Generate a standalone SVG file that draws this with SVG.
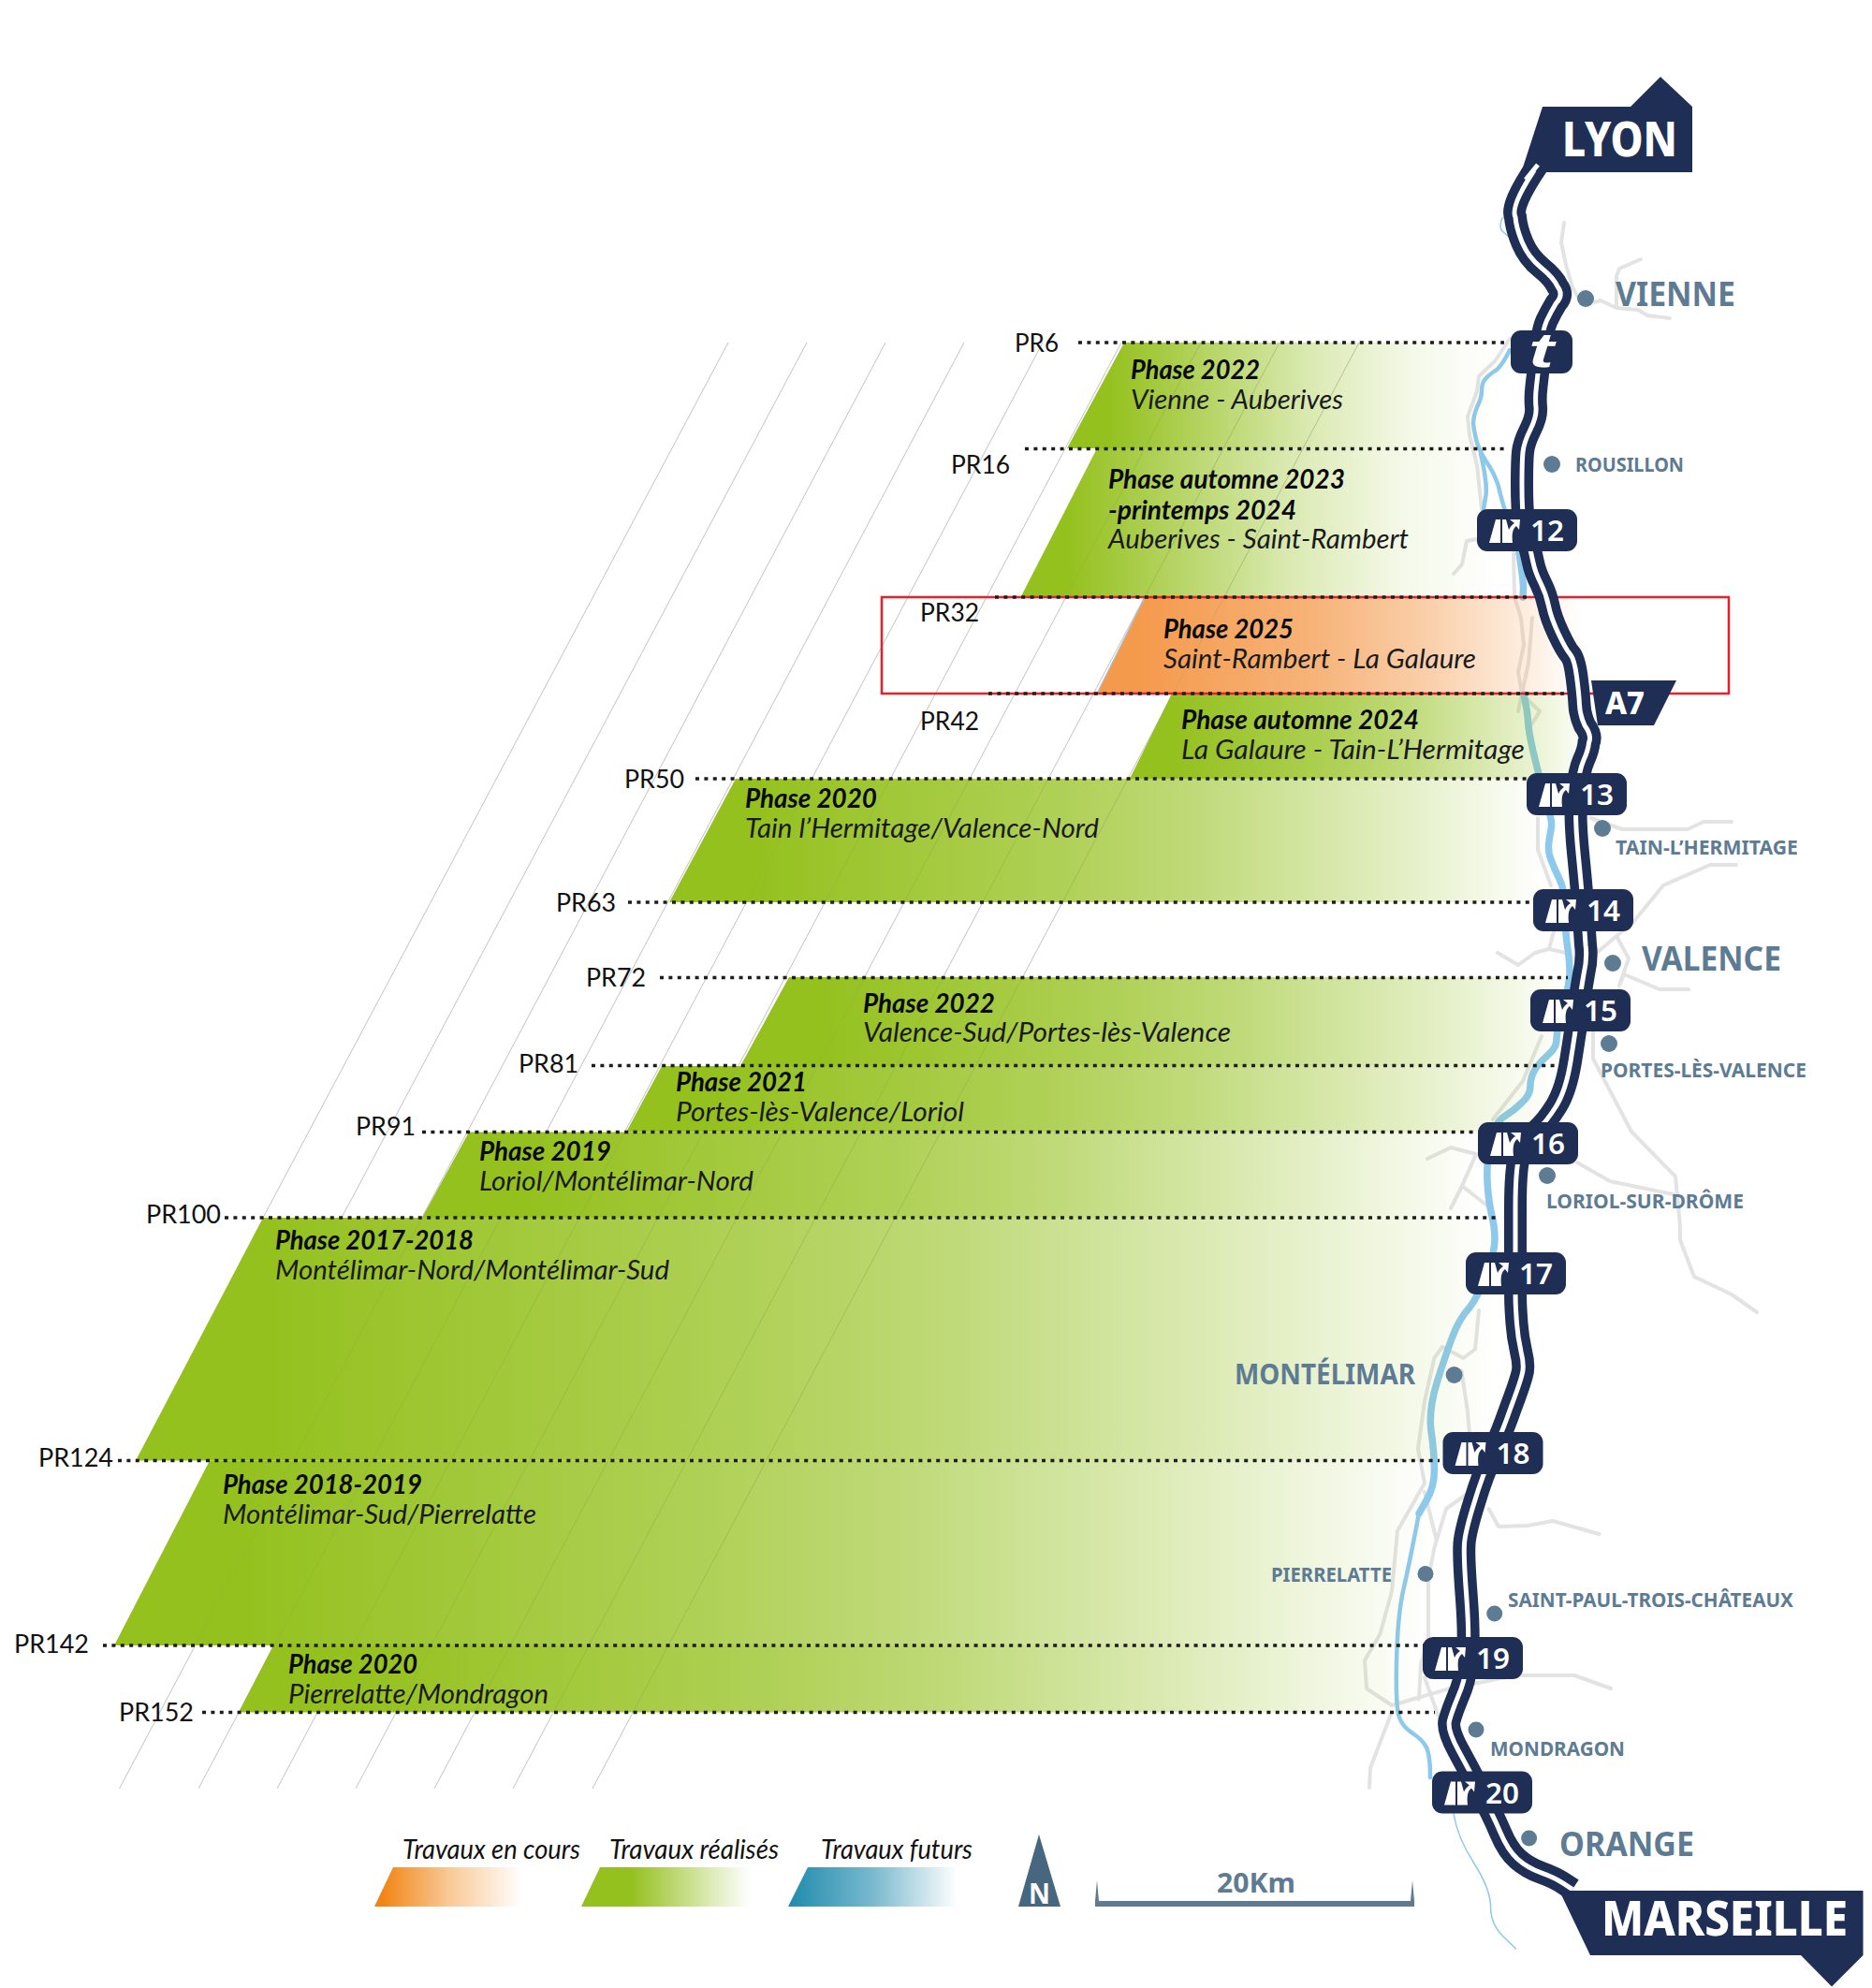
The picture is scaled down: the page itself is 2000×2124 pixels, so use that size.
<svg xmlns="http://www.w3.org/2000/svg" width="2000" height="2124" viewBox="0 0 2000 2124">
<style>
.pr{font-family:Lato,"Noto Sans",sans-serif;font-size:27px;fill:#111}
.ph{font-family:Lato,"Noto Sans",sans-serif;font-size:29px;font-weight:700;font-style:italic;fill:#0a0a0a}
.sb{font-family:Lato,"Noto Sans",sans-serif;font-size:29px;font-style:italic;fill:#1a1a1a}
.lg{font-family:Lato,"Noto Sans",sans-serif;font-size:28px;font-style:italic;fill:#111}
.big{font-family:"Noto Sans",sans-serif;font-size:36px;font-weight:700;fill:#5d7b93}
.sm{font-family:"Noto Sans",sans-serif;font-size:22px;font-weight:700;fill:#5d7b93}
.num{font-family:"Noto Sans",sans-serif;font-size:31px;font-weight:600;fill:#fff}
.fl{font-family:"Noto Sans",sans-serif;font-weight:800;fill:#fff}
.dot{fill:#5d7b93}
.dash{fill:none;stroke:#1d1d1b;stroke-width:3.3;stroke-dasharray:4 5.4}
.g{fill:none;stroke:#e3e3e3;stroke-width:4;stroke-linejoin:round;stroke-linecap:round}
.r{fill:none;stroke:#8dc9ec;stroke-linejoin:round;stroke-linecap:round}
.t{fill:none;stroke:#888;stroke-width:.8;stroke-opacity:.55}
.nv{fill:#1f2e54}
</style>
<defs>
<linearGradient id="gLong"><stop offset=".1" stop-color="#95c11f"/><stop offset=".45" stop-color="#95c11f" stop-opacity=".75"/><stop offset=".6" stop-color="#95c11f" stop-opacity=".6"/><stop offset=".83" stop-color="#95c11f" stop-opacity=".27"/><stop offset="1" stop-color="#95c11f" stop-opacity="0"/></linearGradient>
<linearGradient id="gShort"><stop offset=".1" stop-color="#95c11f"/><stop offset=".25" stop-color="#95c11f" stop-opacity=".8"/><stop offset=".56" stop-color="#95c11f" stop-opacity=".35"/><stop offset=".8" stop-color="#95c11f" stop-opacity=".1"/><stop offset="1" stop-color="#95c11f" stop-opacity="0"/></linearGradient>
<linearGradient id="gOr"><stop offset=".08" stop-color="#f49a4c"/><stop offset=".45" stop-color="#f49a4c" stop-opacity=".75"/><stop offset=".7" stop-color="#f49a4c" stop-opacity=".45"/><stop offset=".9" stop-color="#f49a4c" stop-opacity=".15"/><stop offset="1" stop-color="#f49a4c" stop-opacity="0"/></linearGradient>
<linearGradient id="lOr"><stop offset=".05" stop-color="#f18513"/><stop offset=".5" stop-color="#f18513" stop-opacity=".45"/><stop offset="1" stop-color="#f18513" stop-opacity="0"/></linearGradient>
<linearGradient id="lGr"><stop offset="0" stop-color="#95c11f"/><stop offset=".3" stop-color="#95c11f"/><stop offset="1" stop-color="#95c11f" stop-opacity="0"/></linearGradient>
<linearGradient id="lBl"><stop offset="0" stop-color="#1f8bad"/><stop offset=".5" stop-color="#1f8bad" stop-opacity=".6"/><stop offset="1" stop-color="#1f8bad" stop-opacity="0"/></linearGradient>
<g id="exit"><rect width="107" height="45" rx="11" class="nv"/><path fill="#fff" d="M13,36 L20,11 L25,11 L25,36 Z M27,36 L27,11 L31,11 L34,22 C36,18 38,16 40,15 L35,11 L46,11 L45,22 L42,18 C38,21 37,26 38,36 Z"/></g>
<path id="route" d="M1643,176 Q1613,220 1619,232 Q1620,244 1626.5,259.5 Q1633,275 1646.5,286 Q1660,297 1664,306 Q1671,315 1662.5,324 Q1657,333 1652.5,342.5 Q1648,352 1645.5,376 Q1643,400 1641.5,412.5 Q1640,425 1641,435 Q1642,445 1635,459 Q1628,473 1627,483 Q1626,493 1626,518.5 Q1626,544 1628,557 Q1630,570 1633,580.5 Q1636,591 1638,601 Q1640,611 1646,623 Q1652,635 1654.5,647.5 Q1657,660 1665,677 Q1673,694 1677.5,699 Q1682,704 1684.5,723 Q1687,742 1687.5,753 Q1688,764 1693,775 Q1701,786 1697.5,793.5 Q1697,801 1692,812 Q1687,823 1684.5,847 Q1682,871 1686,911 Q1690,951 1691.5,973 Q1693,995 1694,1009.5 Q1696,1024 1692,1041 Q1689,1058 1686,1080.5 Q1683,1103 1678,1134 Q1673,1165 1662.5,1182 Q1652,1199 1641,1208.5 Q1630,1218 1624.5,1231 Q1619,1244 1619,1291 Q1619,1338 1619,1361 Q1619,1384 1619.2,1392 Q1619.5,1400 1620.5,1414 Q1621.5,1428 1625,1444 Q1629,1460 1626,1469 Q1623.6,1478.5 1614,1504 Q1605,1530 1594.5,1553 Q1584,1575.4 1575,1605.5 Q1565.6,1635.5 1564.5,1649 Q1563.5,1663 1566.8,1706 Q1570,1748.6 1567.8,1772 Q1565.6,1795 1558,1812 Q1551,1829 1548.5,1838.5 Q1546,1848 1558,1870 Q1570,1892 1582,1915 Q1594.6,1938 1602.8,1957.5 Q1611,1977 1621.5,1986.3 Q1632,1995.6 1646.5,2000.8 Q1661,2006 1670.5,2012.3 L1680,2018.6"/>
<g id="grid">
<line class="t" x1="778" y1="366" x2="281" y2="1301"/>
<line class="t" x1="862" y1="366" x2="365" y2="1301"/>
<line class="t" x1="946" y1="366" x2="127.5" y2="1911"/>
<line class="t" x1="1030" y1="366" x2="212" y2="1911"/>
<line class="t" x1="1114" y1="366" x2="296" y2="1911"/>
<line class="t" x1="1198" y1="366" x2="380" y2="1911"/>
<line class="t" x1="1283" y1="366" x2="464" y2="1911"/>
<line class="t" x1="1367" y1="366" x2="548" y2="1911"/>
<line class="t" x1="1452" y1="366" x2="633" y2="1911"/>
</g>
</defs>
<rect width="2000" height="2124" fill="#fff"/>
<use href="#grid"/>
<g id="grey-roads">
<polyline class="g" points="1671,238 1668,259 1673,283 1680,307 1687,319 1703,323 1710,321 1727,329 1750,331 1760,337 1784,340"/>
<polyline class="g" points="1753,277 1730,287 1727,295 1727,327"/>
<polyline class="g" points="1613,362 1597,386 1580,402 1578,418 1568,445 1570,465 1578,497 1583,544"/>
<polyline class="g" points="1578,576 1567,578 1562,603 1553,613"/>
<polyline class="g" points="1617,591 1618,638 1625,660 1628,689 1622,718 1626,742 1645,760 1635,776"/>
<polyline class="g" points="1637,660 1633,708 1622,760"/>
<polyline class="g" points="1643,874 1643,908 1657,946"/>
<polyline class="g" points="1700,874 1733,886 1803,886 1820,878 1850,878"/>
<polyline class="g" points="1855,924 1827,924 1777,946 1745,985 1707,1017"/>
<polyline class="g" points="1727,1000 1740,1024 1730,1053 1735,1041 1773,1057 1804,1057"/>
<polyline class="g" points="1600,1018 1622,1031 1640,1018 1655,1014 1660,995"/>
<polyline class="g" points="1655,1014 1677,1019"/>
<polyline class="g" points="1702,1103 1702,1131 1743,1209 1790,1257 1795,1310 1795,1325 1810,1364 1850,1383 1877,1402"/>
<polyline class="g" points="1685,1242 1720,1262 1792,1277"/>
<polyline class="g" points="1647,1107 1627,1155 1595,1196"/>
<polyline class="g" points="1577,1233 1550,1226 1525,1238"/>
<polyline class="g" points="1577,1233 1562,1267 1550,1291"/>
<polyline class="g" points="1562,1267 1590,1289"/>
<polyline class="g" points="1580,1400 1576,1441.5 1563.5,1451 1541,1439 1532.4,1451 1522,1497 1515,1548 1522,1584.7 1493,1635.5 1487,1700 1474.4,1746 1458,1774 1460,1804 1487,1822 1549,1804 1619.5,1790 1682,1790 1721,1804"/>
<polyline class="g" points="1561.4,1464.6 1567.7,1506 1569.7,1529"/>
<polyline class="g" points="1567.7,1596 1545,1612 1532.4,1654 1526,1686 1526,1751 1518,1778.6 1516,1815.5"/>
<polyline class="g" points="1522,1594 1534.5,1645"/>
<polyline class="g" points="1590.5,1612 1601,1631 1632,1630 1659,1625 1708.6,1639"/>
<polyline class="g" points="1487,1829 1464,1889 1463,1910"/>
<polyline class="g" points="1522,1792.4 1538.6,1838.6"/>
</g>
<g id="river">
<path class="r" stroke-width="4.5" d="M1613,374 Q1603,394 1596,397 Q1590,401 1586,406 Q1583,410 1583,418 Q1583,425 1578,435 Q1574,445 1574,453 Q1575,461 1578,473 Q1582,485 1591,498 Q1600,512 1603,528 Q1607,544 1615,567 L1623,591"/>
<path class="r" stroke-width="4.5" d="M1582,485 Q1590,520 1587,532 L1585,544"/>
<path class="r" stroke-width="7.5" d="M1623,591 Q1628,623 1627.5,630 L1627,638"/>
<path class="r" stroke-width="7.5" d="M1628,742 Q1628,742 1630,752 Q1632,762 1632.5,771 Q1633,781 1638,803 Q1643,825 1650,849 Q1657,874 1657.5,878 Q1658,883 1655.5,895 Q1653,908 1656.5,917 Q1660,927 1666,939 Q1672,951 1672,973 Q1672,995 1675,1014 Q1678,1034 1676.5,1046 Q1675,1058 1669,1080 Q1663,1103 1663,1111 Q1663,1119 1655,1126 Q1647,1133 1641,1141 Q1635,1150 1635,1160 Q1635,1170 1626,1178 Q1617,1187 1607,1193 Q1597,1199 1592,1221 Q1588,1244 1589,1262 Q1590,1281 1593,1295 Q1597,1310 1597,1324 Q1597,1338 1588,1361 Q1580,1384 1570,1397 Q1559,1409 1552,1427.5 Q1545,1446 1535.5,1476 Q1526,1506 1529,1529 Q1532.4,1552 1532.4,1570.5 Q1532.4,1589 1524,1603 L1516,1617"/>
<path class="r" stroke-width="4.5" d="M1516,1617 Q1505.5,1672 1499,1700 Q1493,1728 1492,1776.5 Q1491,1825 1495,1835 Q1499,1845.5 1509.5,1852 Q1520,1859 1524,1867 Q1528,1875.5 1528,1899"/>
<path class="r" stroke-width="1.5" d="M1553,1938 Q1557,1963 1575,1991 Q1592.5,2018.6 1592.5,2037 Q1592.5,2055.6 1606,2069 L1619.5,2082"/>
<path class="r" stroke-width="1.5" d="M1605,233 Q1601,242 1605,247 L1612,253"/>
</g>
<g id="bands">
<polygon id="b-2022a" fill="url(#gShort)" points="1201,366 1600,366 1600,479 1140,479"/>
<polygon id="b-2023" fill="url(#gShort)" points="1172,479 1600,479 1600,637 1091,637"/>
<polygon id="b-2025" fill="url(#gOr)" points="1223,637 1690,637 1690,741 1172,741"/>
<polygon id="b-2024" fill="url(#gLong)" points="1252,741 1700,741 1700,832 1207,832"/>
<polygon id="b-2020a" fill="url(#gLong)" points="786,832 1650,832 1650,964 715,964"/>
<polygon id="b-2022b" fill="url(#gLong)" points="843,1044 1680,1044 1680,1139 791,1139"/>
<polygon id="b-2021" fill="url(#gLong)" points="707,1139 1665,1139 1665,1209.5 669,1209.5"/>
<polygon id="b-2019" fill="url(#gLong)" points="501,1209.5 1580,1209.5 1580,1301 451,1301"/>
<polygon id="b-2017" fill="url(#gLong)" points="281,1301 1600,1301 1600,1560.5 145,1560.5"/>
<polygon id="b-2018" fill="url(#gLong)" points="224,1560.5 1530,1560.5 1530,1758 122,1758"/>
<polygon id="b-2020b" fill="url(#gLong)" points="292,1758 1520,1758 1520,1829.5 255,1829.5"/>
</g>
<use href="#grid" opacity=".22"/>
<line x1="1224" y1="637" x2="1172" y2="741" stroke="#b9b9b9" stroke-width="1.2"/>
<rect id="focus" x="942" y="638" width="905" height="103" fill="none" stroke="#e8202a" stroke-width="2.5"/>
<g id="connectors">
<line class="dash" x1="1152" y1="366" x2="1607" y2="366"/>
<line class="dash" x1="1095" y1="479.5" x2="1607" y2="479.5"/>
<line class="dash" x1="1063" y1="638" x2="1632" y2="638"/>
<line class="dash" x1="1056" y1="741" x2="1680" y2="741"/>
<line class="dash" x1="743" y1="832" x2="1633" y2="832"/>
<line class="dash" x1="671" y1="964" x2="1638" y2="964"/>
<line class="dash" x1="705" y1="1044.5" x2="1675" y2="1044.5"/>
<line class="dash" x1="632" y1="1138.5" x2="1662" y2="1138.5"/>
<line class="dash" x1="451" y1="1209.5" x2="1575" y2="1209.5"/>
<line class="dash" x1="240" y1="1301" x2="1602" y2="1301"/>
<line class="dash" x1="126" y1="1560.5" x2="1538" y2="1560.5"/>
<line class="dash" x1="110" y1="1758" x2="1522" y2="1758"/>
<line class="dash" x1="216" y1="1829.5" x2="1533" y2="1829.5"/>
</g>
<g id="pr-labels">
<text class="pr" x="1084" y="376" textLength="47" lengthAdjust="spacingAndGlyphs">PR6</text>
<text class="pr" x="1016" y="506" textLength="63" lengthAdjust="spacingAndGlyphs">PR16</text>
<text class="pr" x="983" y="664" textLength="63" lengthAdjust="spacingAndGlyphs">PR32</text>
<text class="pr" x="983" y="780" textLength="63" lengthAdjust="spacingAndGlyphs">PR42</text>
<text class="pr" x="667" y="842" textLength="64" lengthAdjust="spacingAndGlyphs">PR50</text>
<text class="pr" x="594" y="974" textLength="64" lengthAdjust="spacingAndGlyphs">PR63</text>
<text class="pr" x="626" y="1054" textLength="64" lengthAdjust="spacingAndGlyphs">PR72</text>
<text class="pr" x="554" y="1146" textLength="64" lengthAdjust="spacingAndGlyphs">PR81</text>
<text class="pr" x="380" y="1213" textLength="64" lengthAdjust="spacingAndGlyphs">PR91</text>
<text class="pr" x="156" y="1307" textLength="80" lengthAdjust="spacingAndGlyphs">PR100</text>
<text class="pr" x="41" y="1567" textLength="80" lengthAdjust="spacingAndGlyphs">PR124</text>
<text class="pr" x="15" y="1766" textLength="80" lengthAdjust="spacingAndGlyphs">PR142</text>
<text class="pr" x="127" y="1839" textLength="80" lengthAdjust="spacingAndGlyphs">PR152</text>
</g>
<g id="phase-labels">
<text class="ph" x="1208" y="405" textLength="138" lengthAdjust="spacingAndGlyphs">Phase 2022</text>
<text class="sb" x="1208" y="437" textLength="227" lengthAdjust="spacingAndGlyphs">Vienne - Auberives</text>
<text class="ph" x="1184" y="522" textLength="253" lengthAdjust="spacingAndGlyphs">Phase automne 2023</text>
<text class="ph" x="1184" y="555" textLength="201" lengthAdjust="spacingAndGlyphs">-printemps 2024</text>
<text class="sb" x="1184" y="586" textLength="321" lengthAdjust="spacingAndGlyphs">Auberives - Saint-Rambert</text>
<text class="ph" x="1243" y="682" textLength="139" lengthAdjust="spacingAndGlyphs">Phase 2025</text>
<text class="sb" x="1243" y="714" textLength="334" lengthAdjust="spacingAndGlyphs">Saint-Rambert - La Galaure</text>
<text class="ph" x="1262" y="779" textLength="254" lengthAdjust="spacingAndGlyphs">Phase automne 2024</text>
<text class="sb" x="1262" y="811" textLength="367" lengthAdjust="spacingAndGlyphs">La Galaure - Tain-L’Hermitage</text>
<text class="ph" x="796" y="863" textLength="141" lengthAdjust="spacingAndGlyphs">Phase 2020</text>
<text class="sb" x="796" y="895" textLength="378" lengthAdjust="spacingAndGlyphs">Tain l’Hermitage/Valence-Nord</text>
<text class="ph" x="922" y="1082" textLength="141" lengthAdjust="spacingAndGlyphs">Phase 2022</text>
<text class="sb" x="922" y="1113" textLength="393" lengthAdjust="spacingAndGlyphs">Valence-Sud/Portes-lès-Valence</text>
<text class="ph" x="722" y="1166" textLength="140" lengthAdjust="spacingAndGlyphs">Phase 2021</text>
<text class="sb" x="722" y="1198" textLength="308" lengthAdjust="spacingAndGlyphs">Portes-lès-Valence/Loriol</text>
<text class="ph" x="512" y="1240" textLength="141" lengthAdjust="spacingAndGlyphs">Phase 2019</text>
<text class="sb" x="512" y="1272" textLength="293" lengthAdjust="spacingAndGlyphs">Loriol/Montélimar-Nord</text>
<text class="ph" x="294" y="1335" textLength="212" lengthAdjust="spacingAndGlyphs">Phase 2017-2018</text>
<text class="sb" x="294" y="1367" textLength="421" lengthAdjust="spacingAndGlyphs">Montélimar-Nord/Montélimar-Sud</text>
<text class="ph" x="238" y="1596" textLength="213" lengthAdjust="spacingAndGlyphs">Phase 2018-2019</text>
<text class="sb" x="238" y="1628" textLength="335" lengthAdjust="spacingAndGlyphs">Montélimar-Sud/Pierrelatte</text>
<text class="ph" x="308" y="1788" textLength="138" lengthAdjust="spacingAndGlyphs">Phase 2020</text>
<text class="sb" x="308" y="1820" textLength="278" lengthAdjust="spacingAndGlyphs">Pierrelatte/Mondragon</text>
</g>
<g id="motorway">
<use href="#route" fill="none" stroke="#1f2e54" stroke-width="24"/>
<use href="#route" fill="none" stroke="#fff" stroke-width="5"/>
</g>
<g id="lyon"><polygon class="nv" points="1648,114 1742,114 1774,82 1808,114 1808,184 1652,184 1626,182"/><path d="M1643,176 L1630,192" stroke="#fff" stroke-width="5" fill="none"/><text class="fl" x="1669" y="167" font-size="51" textLength="123" lengthAdjust="spacingAndGlyphs">LYON</text></g>
<g id="a7"><polygon class="nv" points="1700,727 1791,727 1767,775 1707,775"/><text class="fl" x="1715" y="763" font-size="34" textLength="42" lengthAdjust="spacingAndGlyphs">A7</text></g>
<g id="marseille"><polygon class="nv" points="1666,2020 1990.5,2020 1990.5,2089 1957,2122.5 1924,2089 1699,2089"/><text class="fl" x="1711" y="2068" font-size="52" textLength="263" lengthAdjust="spacingAndGlyphs">MARSEILLE</text></g>
<g id="peage"><rect x="1614" y="353" width="66" height="46" rx="11" class="nv"/><text x="1633" y="392" font-family="'Liberation Sans',sans-serif" font-weight="700" font-style="italic" font-size="52" fill="#fff" textLength="27" lengthAdjust="spacingAndGlyphs">t</text></g>
<g id="x12"><use href="#exit" x="1578" y="544"/><text class="num" x="1635" y="578" textLength="36" lengthAdjust="spacingAndGlyphs">12</text></g>
<g id="x13"><use href="#exit" x="1631" y="826"/><text class="num" x="1688" y="860" textLength="36" lengthAdjust="spacingAndGlyphs">13</text></g>
<g id="x14"><use href="#exit" x="1638" y="950"/><text class="num" x="1695" y="984" textLength="36" lengthAdjust="spacingAndGlyphs">14</text></g>
<g id="x15"><use href="#exit" x="1635" y="1057"/><text class="num" x="1692" y="1091" textLength="36" lengthAdjust="spacingAndGlyphs">15</text></g>
<g id="x16"><use href="#exit" x="1579" y="1199"/><text class="num" x="1636" y="1233" textLength="36" lengthAdjust="spacingAndGlyphs">16</text></g>
<g id="x17"><use href="#exit" x="1566" y="1338"/><text class="num" x="1623" y="1372" textLength="36" lengthAdjust="spacingAndGlyphs">17</text></g>
<g id="x18"><use href="#exit" x="1541.5" y="1530"/><text class="num" x="1598.5" y="1564" textLength="36" lengthAdjust="spacingAndGlyphs">18</text></g>
<g id="x19"><use href="#exit" x="1520" y="1749"/><text class="num" x="1577" y="1783" textLength="36" lengthAdjust="spacingAndGlyphs">19</text></g>
<g id="x20"><use href="#exit" x="1530" y="1892.5"/><text class="num" x="1587" y="1926.5" textLength="36" lengthAdjust="spacingAndGlyphs">20</text></g>
<g id="cities">
<circle class="dot" cx="1694" cy="319" r="9"/><text class="big" x="1726" y="327" textLength="128" lengthAdjust="spacingAndGlyphs">VIENNE</text>
<circle class="dot" cx="1658" cy="496" r="9"/><text class="sm" x="1683" y="504" textLength="116" lengthAdjust="spacingAndGlyphs">ROUSILLON</text>
<circle class="dot" cx="1712" cy="885" r="9"/><text class="sm" x="1726" y="913" textLength="195" lengthAdjust="spacingAndGlyphs">TAIN-L’HERMITAGE</text>
<circle class="dot" cx="1723" cy="1029" r="9"/><text class="big" x="1754" y="1037" textLength="149" lengthAdjust="spacingAndGlyphs">VALENCE</text>
<circle class="dot" cx="1719" cy="1115" r="9"/><text class="sm" x="1710" y="1151" textLength="220" lengthAdjust="spacingAndGlyphs">PORTES-LÈS-VALENCE</text>
<circle class="dot" cx="1653" cy="1256" r="9"/><text class="sm" x="1652" y="1291" textLength="211" lengthAdjust="spacingAndGlyphs">LORIOL-SUR-DRÔME</text>
<circle class="dot" cx="1553.6" cy="1469" r="9"/><text class="big" style="font-size:30px" x="1319" y="1479" textLength="193" lengthAdjust="spacingAndGlyphs">MONTÉLIMAR</text>
<circle class="dot" cx="1523" cy="1681.6" r="8.5"/><text class="sm" x="1358" y="1689.5" textLength="129" lengthAdjust="spacingAndGlyphs">PIERRELATTE</text>
<circle class="dot" cx="1596.7" cy="1724" r="8.5"/><text class="sm" x="1611" y="1717" textLength="305" lengthAdjust="spacingAndGlyphs">SAINT-PAUL-TROIS-CHÂTEAUX</text>
<circle class="dot" cx="1577" cy="1848" r="8.5"/><text class="sm" x="1592" y="1875.5" textLength="144" lengthAdjust="spacingAndGlyphs">MONDRAGON</text>
<circle class="dot" cx="1633.6" cy="1964" r="8.5"/><text class="big" x="1666" y="1983" textLength="144" lengthAdjust="spacingAndGlyphs">ORANGE</text>
</g>
<g id="legend">
<polygon fill="url(#lOr)" points="420,1995 558,1995 558,2037 400,2037"/>
<polygon fill="url(#lGr)" points="641,1995 801,1995 801,2037 621,2037"/>
<polygon fill="url(#lBl)" points="863,1995 1023,1995 1023,2037 842,2037"/>
<text class="lg" x="430" y="1986" textLength="190" lengthAdjust="spacingAndGlyphs">Travaux en cours</text>
<text class="lg" x="651" y="1986" textLength="181" lengthAdjust="spacingAndGlyphs">Travaux réalisés</text>
<text class="lg" x="877" y="1986" textLength="162" lengthAdjust="spacingAndGlyphs">Travaux futurs</text>
</g>
<g id="north"><polygon fill="#47677f" points="1110,1960 1133,2037 1088,2037"/><text x="1099" y="2034" font-family="'Noto Sans',sans-serif" font-weight="700" font-size="31" fill="#fff" textLength="23" lengthAdjust="spacingAndGlyphs">N</text></g>
<g id="scale"><path fill="#5f7b91" d="M1170,2037 L1170,2031 L1172,2009 L1174,2031 L1507,2031 L1509,2009 L1511,2031 L1511,2037 Z"/><text x="1300" y="2022" font-family="'Noto Sans',sans-serif" font-weight="700" font-size="29" fill="#5f7b91" textLength="84" lengthAdjust="spacingAndGlyphs">20Km</text></g>
</svg>
